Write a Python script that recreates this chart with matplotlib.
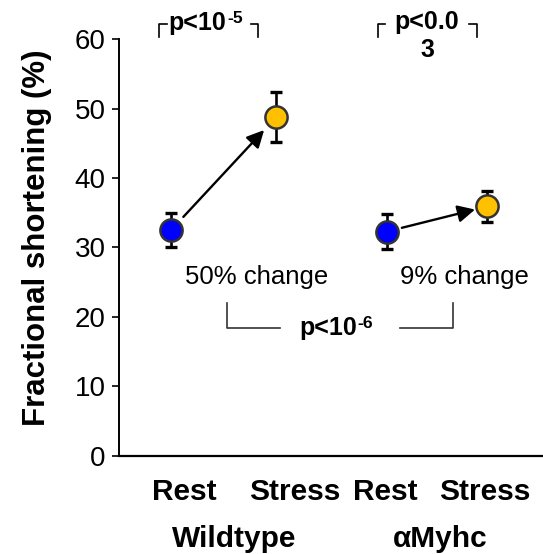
"""
Fractional shortening at rest and under stress, Wildtype vs aMyhc
"""

import matplotlib.pyplot as plt
import numpy as np

plt.rcParams.update({
    'font.family': ['Liberation Sans', 'DejaVu Sans'],
})

conditions = ['Rest', 'Stress', 'Rest', 'Stress']
groups = ['Wildtype', 'αMyhc']
fs_mean = [32.5, 48.8, 32.3, 35.9]
fs_err = [2.5, 3.6, 2.5, 2.3]
colors = ['#0000FF', '#FFC000', '#0000FF', '#FFC000']
change_labels = ['50% change', '9% change']
# (base, superscript) pairs for the p values
p_wt = ('p<10', '-5')
p_myhc = 'p<0.0\n3'
p_between = ('p<10', '-6')

xpos = np.array([1.0, 2.0, 3.05, 4.0])
label_x = [1.13, 2.17, 3.03, 3.98]
group_x = [1.60, 3.55]

fig = plt.figure(figsize=(5.43, 5.54), dpi=100)
ax = fig.add_axes([0.2197, 0.1769, 0.7803, 0.7527])


def p_text(x, y, base, sup, size=18):
    t = ax.text(x - 0.11, y, base, ha='center', va='center', fontsize=size,
                fontweight='bold')
    ax.annotate(sup, xy=(1.0, 1.0), xycoords=t, xytext=(0.5, 0),
                textcoords='offset points', ha='left', va='top',
                fontsize=size * 0.7, fontweight='bold')


# error bars behind the markers
for x, m, e in zip(xpos, fs_mean, fs_err):
    ax.errorbar(x, m, yerr=e, fmt='none', ecolor='black', elinewidth=1.9,
                capsize=4, capthick=2.4, zorder=2)
for x, m, c in zip(xpos, fs_mean, colors):
    ax.plot(x, m, 'o', ms=16, mfc=c, mec='#333333', mew=1.8, zorder=3,
            clip_on=False)

# rest -> stress arrows
for (i, j), (sa, sb) in zip([(0, 1), (2, 3)], [(13, 13), (11, 9)]):
    ax.annotate('', xy=(xpos[j], fs_mean[j]), xytext=(xpos[i], fs_mean[i]),
                arrowprops=dict(arrowstyle='-|>', color='black', lw=1.7,
                                mutation_scale=26, shrinkA=sa, shrinkB=sb),
                zorder=4)

# % change labels
for x, t in zip([1.814, 3.78], change_labels):
    ax.text(x, 25.8, t, ha='center', va='center', fontsize=18.5)

# between-group bracket
bcol = '#333333'
ax.plot([1.535, 1.535, 2.035], [22.0, 18.4, 18.4], color=bcol, lw=1.2)
ax.plot([3.175, 3.68, 3.68], [18.4, 18.4, 22.0], color=bcol, lw=1.2)
p_text(2.6, 18.4, *p_between)

# within-group brackets above the axes
for l, r in [(0.886, 1.83), (2.96, 3.906)]:
    ax.plot([l, l, l + 0.075], [60.3, 62.2, 62.2], color='black', lw=1.2,
            clip_on=False)
    ax.plot([r - 0.075, r, r], [62.2, 62.2, 60.3], color='black', lw=1.2,
            clip_on=False)
p_text(1.36, 62.3, *p_wt)
ax.text(3.43, 60.4, p_myhc, ha='center', va='center', fontsize=18,
        fontweight='bold', linespacing=1.2)

ax.set_xlim(0.509, 4.53)
ax.set_ylim(0, 60)
ax.set_yticks(np.arange(0, 61, 10))
ax.tick_params(axis='y', labelsize=20, length=5, width=1.2, pad=5)
ax.set_xticks(label_x)
ax.set_xticklabels(conditions, fontsize=21.5, fontweight='bold')
ax.tick_params(axis='x', length=0, pad=16)

for x, g in zip(group_x, groups):
    ax.text(x, -0.165, g, transform=ax.get_xaxis_transform(), ha='center',
            va='top', fontsize=21.5, fontweight='bold')

fig.text(37 / 543, 1 - 238 / 554, 'Fractional shortening (%)', rotation=90,
         ha='center', va='center', fontsize=22.5, fontweight='bold')

ax.spines['top'].set_visible(False)
ax.spines['right'].set_visible(False)
ax.spines['left'].set_linewidth(1.4)
ax.spines['bottom'].set_linewidth(1.6)

fig.savefig('out.png', dpi=100, facecolor='white')
